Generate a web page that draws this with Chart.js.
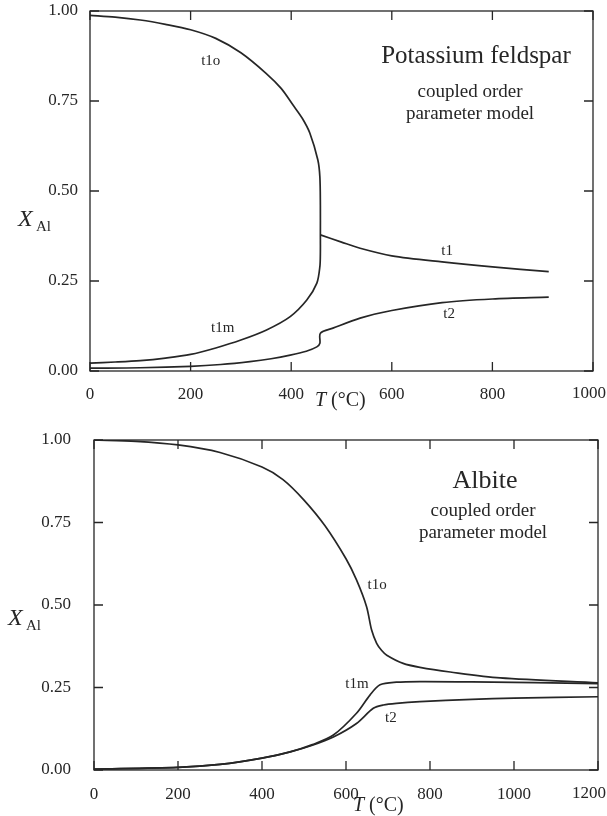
<!DOCTYPE html>
<html lang="en">
<head>
    <meta charset="UTF-8" />
    <title>Feldspar order parameters</title>
    <script src="https://cdn.jsdelivr.net/npm/chart.js"></script>
    <style>
        body {
            margin: 0;
            background: #ffffff;
            width: 607px;
            height: 816px;
            overflow: hidden;
            position: relative;
        }
        canvas {
            position: absolute;
            left: 0;
        }
        #kfsChart { top: 0; }
        #abChart { top: 408px; }
    </style>
</head>
<body>

<canvas id="kfsChart" width="607" height="420"></canvas>
<canvas id="abChart" width="607" height="408"></canvas>

<script>
    // ---- Potassium feldspar (top panel) ----
    const kfsT1oT = [0, 50, 100, 150, 200, 250, 300, 350, 380, 404, 422, 437, 453, 457, 458, 458];
    const kfsT1oX = [0.988, 0.983, 0.975, 0.963, 0.948, 0.924, 0.884, 0.827, 0.785, 0.738, 0.702, 0.661, 0.586, 0.539, 0.46, 0.378];

    const kfsT1mT = [0, 50, 100, 150, 200, 250, 300, 351, 398, 431, 451, 457, 458, 458];
    const kfsT1mX = [0.022, 0.025, 0.029, 0.036, 0.046, 0.064, 0.086, 0.114, 0.151, 0.197, 0.244, 0.29, 0.33, 0.378];

    const kfsT1T = [458, 500, 537, 600, 700, 800, 912];
    const kfsT1X = [0.378, 0.358, 0.341, 0.32, 0.303, 0.289, 0.276];

    const kfsT2T = [0, 100, 200, 260, 318, 360, 398, 430, 451, 457, 458, 483, 537, 600, 700, 800, 912];
    const kfsT2X = [0.008, 0.009, 0.013, 0.018, 0.026, 0.034, 0.044, 0.055, 0.067, 0.077, 0.105, 0.119, 0.147, 0.168, 0.19, 0.2, 0.205];

    // ---- Albite (bottom panel) ----
    const abT1oT = [0, 100, 200, 300, 400, 450, 500, 550, 600, 625, 649, 661, 673, 685, 697, 736, 776, 848, 967, 1200];
    const abT1oX = [1.0, 0.996, 0.985, 0.962, 0.918, 0.88, 0.818, 0.74, 0.64, 0.576, 0.495, 0.424, 0.384, 0.362, 0.348, 0.323, 0.311, 0.297, 0.279, 0.264];

    const abT1mT = [0, 200, 300, 400, 467, 520, 570, 625, 657, 681, 720, 776, 900, 1200];
    const abT1mX = [0.003, 0.008, 0.017, 0.036, 0.055, 0.077, 0.106, 0.172, 0.227, 0.258, 0.266, 0.268, 0.267, 0.262];

    const abT2T = [0, 200, 300, 400, 467, 520, 570, 625, 665, 689, 720, 776, 900, 1000, 1200];
    const abT2X = [0.003, 0.008, 0.017, 0.036, 0.055, 0.075, 0.1, 0.141, 0.187, 0.197, 0.202, 0.207, 0.214, 0.218, 0.222];

    // curve labels [text, T, X]
    const kfsLabels = [['t1o', 240, 0.861], ['t1m', 264, 0.119], ['t1', 710, 0.333], ['t2', 714, 0.158]];
    const abLabels = [['t1o', 674, 0.561], ['t1m', 626, 0.261], ['t2', 707, 0.158]];

    const yTicks = [0, 0.25, 0.5, 0.75, 1.0];

    const serif = '"Liberation Serif", "DejaVu Serif", serif';
    const ink = '#262626';
    const tickFont = 17;

    function pts(xs, ys) {
        return xs.map((x, i) => ({ x: x, y: ys[i] }));
    }

    function line(xs, ys) {
        return {
            data: pts(xs, ys),
            showLine: true,
            borderColor: ink,
            borderWidth: 1.7,
            pointRadius: 0,
            tension: 0.3,
            fill: false
        };
    }

    // frame, inward ticks, titles and curve labels
    function decor(cfg) {
        return {
            id: 'decor',
            afterDraw(chart) {
                const ctx = chart.ctx;
                const a = chart.chartArea;
                const xs = chart.scales.x, ys = chart.scales.y;
                ctx.save();
                ctx.strokeStyle = ink;
                ctx.lineWidth = 1.3;
                ctx.strokeRect(a.left, a.top, a.right - a.left, a.bottom - a.top);

                const tl = 9;
                ctx.beginPath();
                for (let v = xs.min; v <= xs.max; v += 200) {
                    const px = xs.getPixelForValue(v);
                    ctx.moveTo(px, a.bottom); ctx.lineTo(px, a.bottom - tl);
                    ctx.moveTo(px, a.top); ctx.lineTo(px, a.top + tl);
                }
                yTicks.forEach(v => {
                    const py = ys.getPixelForValue(v);
                    ctx.moveTo(a.left, py); ctx.lineTo(a.left + tl, py);
                    ctx.moveTo(a.right, py); ctx.lineTo(a.right - tl, py);
                });
                ctx.stroke();

                ctx.fillStyle = ink;

                // last x tick label, pulled in so it stays on the page
                ctx.font = tickFont + 'px ' + serif;
                ctx.textAlign = 'center';
                ctx.textBaseline = 'middle';
                const lastTxt = String(xs.max);
                const w = ctx.measureText(lastTxt).width;
                const lx = Math.min(xs.getPixelForValue(xs.max), chart.width - 1 - w / 2);
                ctx.fillText(lastTxt, lx, a.bottom + cfg.xPad + tickFont / 2 + 1);

                ctx.font = '15px ' + serif;
                cfg.labels.forEach(l => {
                    ctx.fillText(l[0], xs.getPixelForValue(l[1]), ys.getPixelForValue(l[2]));
                });

                // panel titles
                ctx.textBaseline = 'alphabetic';
                ctx.font = cfg.titleSize + 'px ' + serif;
                ctx.fillText(cfg.title, cfg.titleX, cfg.titleY);
                ctx.font = '19px ' + serif;
                ctx.fillText('coupled order', cfg.subX, cfg.subY);
                ctx.fillText('parameter model', cfg.subX, cfg.subY + 22);

                // y axis title X_Al
                ctx.textAlign = 'left';
                ctx.font = 'italic 24px ' + serif;
                ctx.fillText('X', cfg.yTitle[0], cfg.yTitle[1]);
                ctx.font = '15px ' + serif;
                ctx.fillText('Al', cfg.yTitle[0] + 18, cfg.yTitle[1] + 5);

                // x axis title T (°C)
                ctx.font = 'italic 20px ' + serif;
                ctx.fillText('T', cfg.xTitle[0], cfg.xTitle[1]);
                ctx.font = '20px ' + serif;
                ctx.fillText('(°C)', cfg.xTitle[0] + 16, cfg.xTitle[1]);
                ctx.restore();
            }
        };
    }

    function makeChart(id, datasets, xMax, pad, yWidth, xHeight, yPad, xPad, cfg) {
        cfg.xPad = xPad;
        return new Chart(document.getElementById(id), {
            type: 'scatter',
            data: { datasets: datasets },
            options: {
                responsive: false,
                animation: false,
                devicePixelRatio: 1,
                layout: { padding: pad },
                plugins: { legend: { display: false }, tooltip: { enabled: false } },
                scales: {
                    x: {
                        type: 'linear',
                        min: 0,
                        max: xMax,
                        grid: { display: false, drawTicks: false },
                        border: { display: false },
                        ticks: {
                            stepSize: 200,
                            padding: xPad,
                            color: ink,
                            font: { family: serif, size: tickFont },
                            maxRotation: 0,
                            callback: v => (v === xMax ? '' : String(v))
                        },
                        afterFit(s) {
                            s.height = xHeight;
                            s.paddingLeft = 0;
                            s.paddingRight = 0;
                        }
                    },
                    y: {
                        min: 0,
                        max: 1,
                        grid: { display: false, drawTicks: false },
                        border: { display: false },
                        ticks: {
                            stepSize: 0.25,
                            padding: yPad,
                            color: ink,
                            font: { family: serif, size: tickFont },
                            callback: v => v.toFixed(2)
                        },
                        afterFit(s) {
                            s.width = yWidth;
                            s.paddingTop = 0;
                            s.paddingBottom = 0;
                        }
                    }
                }
            },
            plugins: [decor(cfg)]
        });
    }

    makeChart('kfsChart',
        [line(kfsT1oT, kfsT1oX), line(kfsT1mT, kfsT1mX), line(kfsT1T, kfsT1X), line(kfsT2T, kfsT2X)],
        1000, { top: 11, right: 14, left: 0, bottom: 0 }, 90, 49, 12, 13,
        {
            labels: kfsLabels,
            title: 'Potassium feldspar', titleSize: 25, titleX: 476, titleY: 63,
            subX: 470, subY: 97,
            yTitle: [18, 226], xTitle: [315, 406]
        });

    makeChart('abChart',
        [line(abT1oT, abT1oX), line(abT1mT, abT1mX), line(abT2T, abT2X)],
        1200, { top: 32, right: 9, left: 0, bottom: 0 }, 94, 46, 23, 14,
        {
            labels: abLabels,
            title: 'Albite', titleSize: 26, titleX: 485, titleY: 80,
            subX: 483, subY: 108,
            yTitle: [8, 217], xTitle: [353, 403]
        });
</script>

</body>
</html>
